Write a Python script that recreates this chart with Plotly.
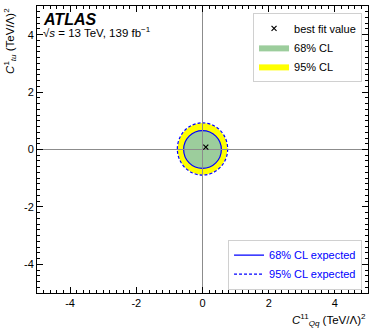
import plotly.graph_objects as go

# Valores
BEST_FIT_X = [0.1]
BEST_FIT_Y = [0.08]

# Elipses: centro (x, y) y semiejes (rx, ry)
OBS68_CENTRO = [0.0, 0.0]
OBS68_RADIOS = [0.57, 0.66]
OBS95_CENTRO = [0.0, 0.02]
OBS95_RADIOS = [0.75, 0.90]
EXP68_CENTRO = [0.0, 0.0]
EXP68_RADIOS = [0.57, 0.66]
EXP95_CENTRO = [0.0, 0.02]
EXP95_RADIOS = [0.76, 0.91]

TICKS = [-4, -2, 0, 2, 4]
TICK_TEXT = ["-4", "-2", "0", "2", "4"]

VERDE = "#9ccd9c"
AMARILLO = "#ffff00"
AZUL = "#0000ff"
FUENTE = "Liberation Sans, Arial, sans-serif"


def _elipse(centro, radios, **kw):
    return dict(
        type="circle", xref="x", yref="y", layer="below",
        x0=centro[0] - radios[0], x1=centro[0] + radios[0],
        y0=centro[1] - radios[1], y1=centro[1] + radios[1],
        **kw,
    )


fig = go.Figure()

# Entradas de leyenda (las regiones se dibujan como shapes)
fig.add_trace(go.Scatter(
    x=BEST_FIT_X, y=BEST_FIT_Y, mode="markers", name="best fit value",
    marker=dict(symbol="x-thin", size=5, line=dict(color="black", width=1.2)),
    legend="legend",
))
fig.add_trace(go.Scatter(
    x=[None], y=[None], mode="lines", fill="toself", name="68% CL",
    fillcolor=VERDE, line=dict(color=VERDE, width=0), legend="legend",
))
fig.add_trace(go.Scatter(
    x=[None], y=[None], mode="lines", fill="toself", name="95% CL",
    fillcolor=AMARILLO, line=dict(color=AMARILLO, width=0), legend="legend",
))
fig.add_trace(go.Scatter(
    x=[None], y=[None], mode="lines", name="68% CL expected",
    line=dict(color=AZUL, width=1.2), legend="legend2",
))
fig.add_trace(go.Scatter(
    x=[None], y=[None], mode="lines", name="95% CL expected",
    line=dict(color=AZUL, width=1.2, dash="3px,2px"), legend="legend2",
))

fig.add_shape(_elipse(OBS95_CENTRO, OBS95_RADIOS, fillcolor=AMARILLO,
                      line=dict(width=0)))
fig.add_shape(_elipse(OBS68_CENTRO, OBS68_RADIOS, fillcolor=VERDE,
                      line=dict(width=0)))
fig.add_shape(_elipse(EXP68_CENTRO, EXP68_RADIOS,
                      line=dict(color=AZUL, width=1.2)))
fig.add_shape(_elipse(EXP95_CENTRO, EXP95_RADIOS,
                      line=dict(color=AZUL, width=1.2, dash="3px,2px")))

eje = dict(
    range=[-5, 5], tickvals=TICKS, ticktext=TICK_TEXT,
    ticks="inside", ticklen=6, tickcolor="black", mirror="allticks",
    showline=True, linecolor="black", linewidth=1, showgrid=False,
    zeroline=True, zerolinecolor="#8c8c8c", zerolinewidth=1,
    tickfont=dict(size=11, color="black"),
    minor=dict(dtick=0.2, ticks="inside", ticklen=3, tickcolor="black"),
)
fig.update_xaxes(**eje)
fig.update_yaxes(**eje)

fig.add_annotation(
    text="<b><i>ATLAS</i></b>", xref="paper", yref="paper",
    x=0.012, y=0.99, xanchor="left", yanchor="top", showarrow=False,
    font=dict(size=16, color="black"),
)
fig.add_annotation(
    text="√<i>s</i> = 13 TeV, 139 fb<sup>−1</sup>", xref="paper", yref="paper",
    x=0.012, y=0.94, xanchor="left", yanchor="top", showarrow=False,
    font=dict(size=11.5, color="black"),
)
fig.add_annotation(
    text="<i>C</i><sup>11</sup><sub><i>Qq</i></sub> (TeV/Λ)<sup>2</sup>",
    xref="paper", yref="paper", x=1.0, y=-0.06, xanchor="right",
    yanchor="top", showarrow=False, font=dict(size=11.5, color="black"),
)
fig.add_annotation(
    text="<i>C</i><sup>1</sup><sub><i>tu</i></sub> (TeV/Λ)<sup>2</sup>",
    xref="paper", yref="paper", x=-0.112, y=1.0, xanchor="left",
    yanchor="top", textangle=-90, showarrow=False,
    font=dict(size=11.5, color="black"),
)

leyenda = dict(
    bgcolor="white", bordercolor="#d0d0d0", borderwidth=1,
    xanchor="right", x=0.982, font=dict(size=11, color="black"),
    tracegroupgap=0,
)
fig.update_layout(
    width=374, height=332,
    margin=dict(l=37, r=6, t=6, b=39),
    plot_bgcolor="white", paper_bgcolor="white",
    font=dict(family=FUENTE),
    showlegend=True,
    legend=dict(**leyenda, yanchor="top", y=0.976),
    legend2=dict(**{**leyenda, "font": dict(size=11, color=AZUL)},
                 yanchor="bottom", y=0.012),
)

fig.write_html("out.html", config={"displayModeBar": False},
               post_script="document.body.style.margin='0';")
